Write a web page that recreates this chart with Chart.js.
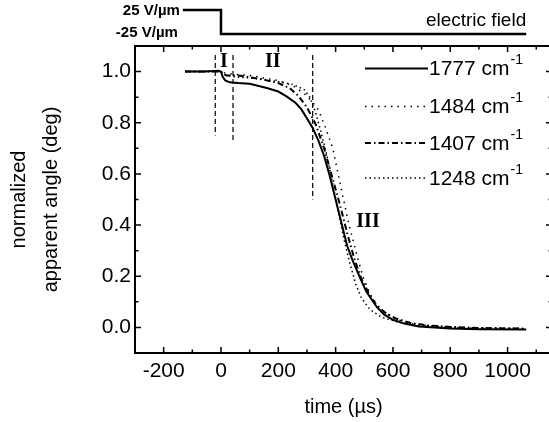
<!DOCTYPE html>
<html>
<head>
<meta charset="utf-8">
<script src="https://cdn.jsdelivr.net/npm/chart.js@4.4.0/dist/chart.umd.min.js"></script>
<style>
  html, body { margin: 0; padding: 0; background: #fff; overflow: hidden; }
  #wrap { width: 552px; height: 422px; }
</style>
</head>
<body>
<div id="wrap"><canvas id="myChart"></canvas></div>
<script>
// ticks
var xTickLabels = [-200, 0, 200, 400, 600, 800, 1000];
var yTickLabels = [0.0, 0.2, 0.4, 0.6, 0.8, 1.0];

// the four bands (cm-1), time in us
var bandNames = ["1777", "1484", "1407", "1248"];

var t1777 = [-125, -60, -10, 0, 6, 15, 30, 60, 100, 160, 200, 230, 260, 280, 300, 320, 340, 360, 380, 400, 420, 440, 460, 485, 507, 525, 545, 570, 600, 640, 690, 800, 900, 1065];
var y1777 = [1.0, 1.0, 1.003, 1.0, 0.98, 0.965, 0.958, 0.955, 0.952, 0.936, 0.922, 0.902, 0.878, 0.853, 0.817, 0.78, 0.73, 0.67, 0.59, 0.5, 0.41, 0.32, 0.26, 0.195, 0.14, 0.11, 0.078, 0.05, 0.03, 0.015, 0.004, -0.004, -0.007, -0.008];

var t1484 = [-125, 0, 10, 40, 100, 150, 200, 250, 290, 320, 340, 365, 390, 420, 445, 470, 495, 520, 550, 590, 640, 700, 800, 900, 1065];
var y1484 = [1.0, 1.0, 0.995, 0.99, 0.985, 0.975, 0.965, 0.945, 0.915, 0.88, 0.85, 0.78, 0.7, 0.54, 0.41, 0.3, 0.2, 0.13, 0.08, 0.045, 0.02, 0.008, 0.0, -0.003, -0.005];

var t1407 = [-125, -10, 0, 8, 20, 60, 100, 150, 200, 240, 270, 300, 330, 360, 390, 415, 440, 465, 490, 515, 540, 570, 610, 660, 720, 800, 900, 1000, 1065];
var y1407 = [1.0, 1.0, 1.0, 0.99, 0.985, 0.985, 0.978, 0.968, 0.955, 0.935, 0.905, 0.86, 0.795, 0.7, 0.58, 0.48, 0.37, 0.27, 0.19, 0.135, 0.09, 0.06, 0.035, 0.018, 0.008, 0.002, -0.002, -0.004, -0.005];

var t1248 = [-125, 0, 10, 40, 100, 150, 200, 250, 290, 310, 330, 350, 370, 390, 410, 430, 450, 470, 490, 520, 560, 620, 700, 800, 1065];
var y1248 = [1.0, 1.0, 0.99, 0.98, 0.975, 0.97, 0.96, 0.95, 0.93, 0.9, 0.84, 0.76, 0.67, 0.56, 0.45, 0.34, 0.25, 0.17, 0.115, 0.07, 0.04, 0.02, 0.008, 0.0, -0.004];

// dashed markers separating regions I, II, III
var markTime = [-20, 42, 320];
var markTop = [1.065, 1.065, 1.065];
var markBottom = [0.75, 0.725, 0.5];

var regionNames = ["I", "II", "III"];
var regionTime = [10, 181, 513];
var regionLevel = [1.037, 1.037, 0.412];

// applied field step (V/um)
var fieldTime = [-133, 0, 0, 1065];
var fieldLevel = [25, 25, -25, -25];
var fieldLabels = ["25 V/\u00b5m", "-25 V/\u00b5m"];

function pts(t, y) {
  return t.map(function (v, i) { return { x: v, y: y[i] }; });
}

Chart.defaults.font.family = "'Liberation Sans', Arial, sans-serif";
Chart.defaults.color = "#000";

var datasets = [
  { label: bandNames[0], data: pts(t1777, y1777), borderWidth: 2, borderDash: [] },
  { label: bandNames[1], data: pts(t1484, y1484), borderWidth: 1.5, borderDash: [1.5, 5] },
  { label: bandNames[2], data: pts(t1407, y1407), borderWidth: 2, borderDash: [6, 3, 1.5, 3] },
  { label: bandNames[3], data: pts(t1248, y1248), borderWidth: 1.5, borderDash: [1.5, 3] }
];
markTime.forEach(function (t, i) {
  datasets.push({ label: "mark", data: [{ x: t, y: markTop[i] }, { x: t, y: markBottom[i] }], borderWidth: 1.2, borderDash: [5, 3] });
});
datasets.push({ label: "field", data: pts(fieldTime, fieldLevel), yAxisID: "yField", borderWidth: 2.5, clip: false });
datasets.forEach(function (d) {
  d.borderColor = "#000";
  d.pointRadius = 0;
  d.fill = false;
  d.tension = 0;
});

var framePlugin = {
  id: "frame",
  afterDraw: function (chart) {
    var ctx = chart.ctx, a = chart.chartArea;
    var xs = chart.scales.x, ys = chart.scales.y, yf = chart.scales.yField;
    ctx.save();
    ctx.strokeStyle = "#000";
    ctx.fillStyle = "#000";
    ctx.lineWidth = 2;
    ctx.strokeRect(a.left, a.top, a.right - a.left, a.bottom - a.top);

    // inward ticks
    ctx.lineWidth = 1.5;
    ctx.beginPath();
    for (var v = -200; v < xs.max; v += 100) {
      var len = v % 200 === 0 ? 6 : 3.5;
      var px = xs.getPixelForValue(v);
      ctx.moveTo(px, a.bottom); ctx.lineTo(px, a.bottom - len);
      ctx.moveTo(px, a.top); ctx.lineTo(px, a.top + len);
    }
    for (var i = 0; i <= 10; i++) {
      var ln = i % 2 === 0 ? 6 : 3.5;
      var py = ys.getPixelForValue(i / 10);
      ctx.moveTo(a.left, py); ctx.lineTo(a.left + ln, py);
      ctx.moveTo(a.right, py); ctx.lineTo(a.right - ln, py);
    }
    ctx.stroke();

    // field labels
    var fx = xs.getPixelForValue(fieldTime[0]) - 3;
    ctx.font = "bold 15px 'Liberation Sans', Arial, sans-serif";
    ctx.textAlign = "right";
    ctx.textBaseline = "middle";
    ctx.fillText(fieldLabels[0], fx, yf.getPixelForValue(fieldLevel[0]) + 1);
    ctx.fillText(fieldLabels[1], fx - 2, yf.getPixelForValue(fieldLevel[2]) - 1);
    ctx.font = "19px 'Liberation Sans', Arial, sans-serif";
    ctx.textBaseline = "alphabetic";
    ctx.fillText("electric field", xs.getPixelForValue(fieldTime[3]), 26);

    // region numerals
    ctx.font = "bold 20px 'Liberation Serif', 'Times New Roman', serif";
    ctx.textAlign = "center";
    ctx.textBaseline = "middle";
    regionNames.forEach(function (n, k) {
      ctx.fillText(n, xs.getPixelForValue(regionTime[k]), ys.getPixelForValue(regionLevel[k]));
    });

    // legend
    var rows = [68.5, 106.5, 143, 178];
    for (var j = 0; j < 4; j++) {
      var d = chart.data.datasets[j];
      ctx.lineWidth = d.borderWidth;
      ctx.setLineDash(d.borderDash);
      ctx.beginPath();
      ctx.moveTo(365, rows[j]);
      ctx.lineTo(428, rows[j]);
      ctx.stroke();
      ctx.setLineDash([]);
      ctx.textAlign = "left";
      ctx.textBaseline = "middle";
      ctx.font = "21px 'Liberation Sans', Arial, sans-serif";
      var txt = d.label + " cm";
      ctx.fillText(txt, 429, rows[j] + 1);
      var w = ctx.measureText(txt).width;
      ctx.font = "14px 'Liberation Sans', Arial, sans-serif";
      ctx.fillText("-1", 429 + w + 1, rows[j] - 8);
    }
    ctx.restore();
  }
};

new Chart("myChart", {
  type: "line",
  data: { datasets: datasets },
  plugins: [framePlugin],
  options: {
    responsive: true,
    maintainAspectRatio: false,
    animation: false,
    layout: { padding: { top: 46, left: 0, right: 0, bottom: 0 } },
    plugins: { legend: { display: false }, tooltip: { enabled: false } },
    scales: {
      x: {
        type: "linear",
        min: -300,
        max: 1155,
        afterBuildTicks: function (s) { s.ticks = xTickLabels.map(function (v) { return { value: v }; }); },
        afterFit: function (s) { s.height = 69; },
        grid: { display: false, drawTicks: false },
        border: { display: false },
        ticks: { padding: 6, font: { size: 21 }, maxRotation: 0, autoSkip: false, callback: function (v) { return String(v); } },
        title: { display: true, text: "time (\u00b5s)", font: { size: 20 }, padding: { top: 0, bottom: 3 } }
      },
      y: {
        min: -0.1,
        max: 1.1,
        afterBuildTicks: function (s) { s.ticks = yTickLabels.map(function (v) { return { value: v }; }); },
        afterFit: function (s) { s.width = 135; },
        grid: { display: false, drawTicks: false },
        border: { display: false },
        ticks: { padding: 4, font: { size: 21 }, callback: function (v) { return v.toFixed(1); } },
        title: { display: true, text: ["normalized", "apparent angle (deg)"], font: { size: 20, lineHeight: 1.6 }, padding: { top: 3, bottom: 0 } }
      },
      yField: { display: false, min: -689.6, max: -50 }
    }
  }
});
</script>
</body>
</html>
